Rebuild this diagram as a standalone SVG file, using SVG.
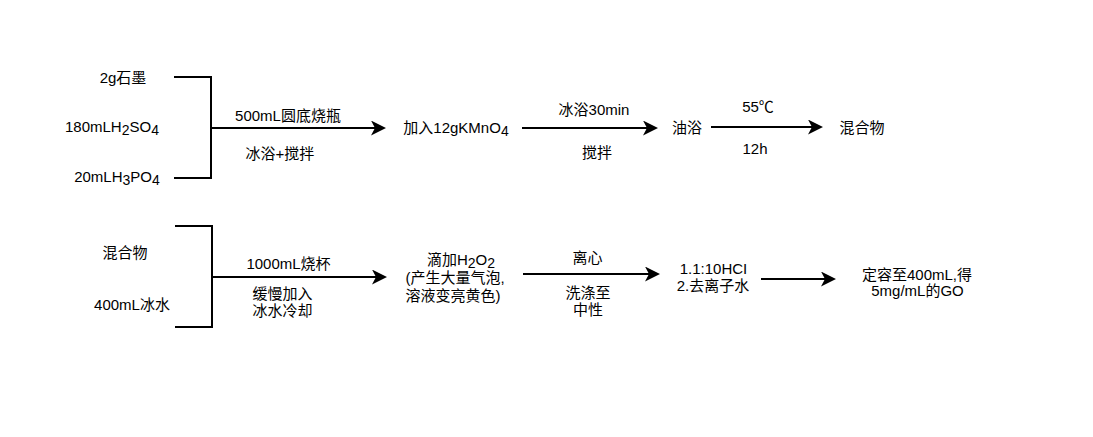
<svg xmlns="http://www.w3.org/2000/svg" width="1093" height="437" viewBox="0 0 1093 437">
<style>
text{font-family:"Liberation Sans","Noto Sans CJK SC",Arial,sans-serif;font-size:15px;fill:#000;text-anchor:middle}
.sub{font-size:14px}
.ln{fill:none;stroke:#000;stroke-width:2}
.ar{fill:none;stroke:#000;stroke-width:2;marker-end:url(#ah)}
</style>
<defs>
<marker id="ah" markerUnits="userSpaceOnUse" viewBox="0 0 15 15" refX="5" refY="7.5" markerWidth="15" markerHeight="15" orient="auto">
<path d="M0,0 L15,7.5 L0,15 L4,7.5 Z" fill="#000"/>
</marker>
</defs>
<rect width="1093" height="437" fill="#fff"/>
<g id="connectors">
<path class="ln" d="M174,77 H211 V178 H174"/>
<path class="ar" d="M211,128 H376"/>
<path class="ar" d="M522,128 H648"/>
<path class="ar" d="M711,127 H813"/>
<path class="ln" d="M175,226 H212 V327 H175"/>
<path class="ar" d="M212,277 H377"/>
<path class="ar" d="M523,274 H650"/>
<path class="ar" d="M761,279 H826"/>
</g>
<g id="n-graphite"><text x="123" y="83">2g石墨</text></g>
<g id="n-h2so4"><text x="112" y="132">180mLH<tspan class="sub" dy="3">2</tspan><tspan dy="-3">SO</tspan><tspan class="sub" dy="3">4</tspan></text></g>
<g id="n-h3po4"><text x="117" y="182">20mLH<tspan class="sub" dy="3">3</tspan><tspan dy="-3">PO</tspan><tspan class="sub" dy="3">4</tspan></text></g>
<g id="l-flask"><text x="288" y="121">500mL圆底烧瓶</text><text x="280" y="159">冰浴+搅拌</text></g>
<g id="n-kmno4"><text x="456" y="133">加入12gKMnO<tspan class="sub" dy="3">4</tspan></text></g>
<g id="l-ice"><text x="594" y="115">冰浴30min</text><text x="597" y="158">搅拌</text></g>
<g id="n-oil"><text x="687" y="133">油浴</text></g>
<g id="l-55"><text x="758" y="112">55℃</text><text x="755" y="154">12h</text></g>
<g id="n-mix1"><text x="862" y="133">混合物</text></g>
<g id="n-mix2"><text x="125" y="258">混合物</text></g>
<g id="n-icewater"><text x="132" y="310">400mL冰水</text></g>
<g id="l-beaker"><text x="288.5" y="269">1000mL烧杯</text><text x="282.5" y="299">缓慢加入</text><text x="282.5" y="316">冰水冷却</text></g>
<g id="n-h2o2"><text x="461" y="265">滴加H<tspan class="sub" dy="3">2</tspan><tspan dy="-3">O</tspan><tspan class="sub" dy="3">2</tspan></text><text x="455" y="283">(产生大量气泡,</text><text x="453" y="301">溶液变亮黄色)</text></g>
<g id="l-centri"><text x="587.5" y="263">离心</text><text x="588" y="298">洗涤至</text><text x="588" y="315">中性</text></g>
<g id="n-wash"><text x="713.5" y="274">1.1:10HCI</text><text x="713" y="291">2.去离子水</text></g>
<g id="n-go"><text x="917" y="280">定容至400mL,得</text><text x="917.5" y="296">5mg/mL的GO</text></g>
</svg>
